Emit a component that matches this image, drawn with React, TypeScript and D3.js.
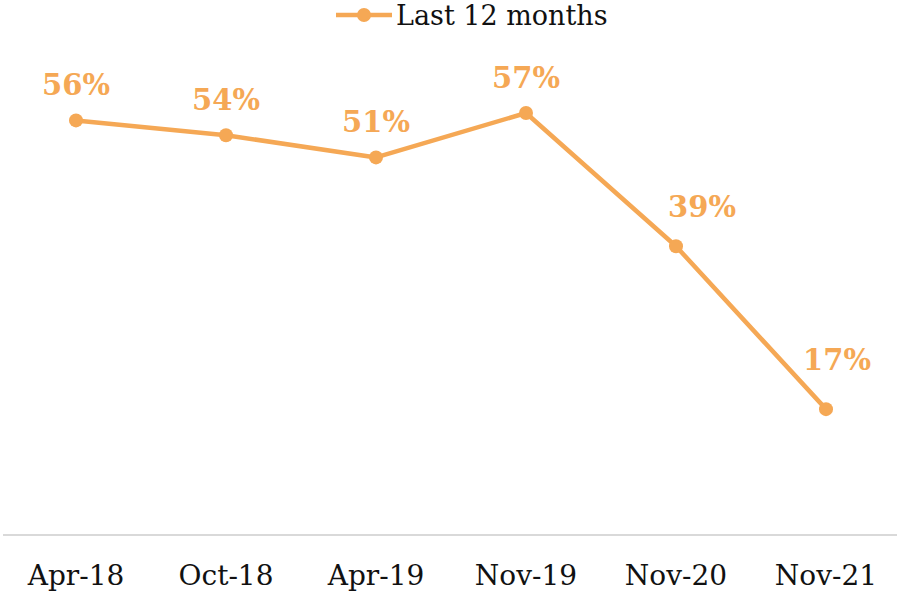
import React from 'react';
import * as d3 from 'd3';

// values
const categories = ['Apr-18', 'Oct-18', 'Apr-19', 'Nov-19', 'Nov-20', 'Nov-21'];
const last12Months = [56, 54, 51, 57, 39, 17];
const seriesName = 'Last 12 months';

// label nudges (px) for points where the label sits off-centre
const labelShift: Record<string, [number, number]> = {
  'Nov-20': [26, -4],
  'Nov-21': [11, -14],
};

const ORANGE = '#F5A855';
const FONT = '"DejaVu Serif", Georgia, serif';

export default function App() {
  const width = 897;
  const height = 591;
  const baseY = 535;

  const x = d3.scaleBand<string>().domain(categories).range([1, 901]);
  const y = d3.scaleLinear().domain([0, 57]).range([baseY, 113]);

  const points = categories.map((c, i) => ({
    c,
    v: last12Months[i],
    px: (x(c) ?? 0) + x.bandwidth() / 2,
    py: y(last12Months[i]),
  }));

  const line = d3
    .line<{ px: number; py: number }>()
    .x(d => d.px)
    .y(d => d.py);

  return (
    <div style={{ position: 'absolute', left: 0, top: 0 }}>
      <svg width={width} height={height} style={{ display: 'block', background: '#fff' }}>
        {/* baseline */}
        <line x1={3} x2={width} y1={baseY} y2={baseY} stroke="#d9d9d9" strokeWidth={2} />

        {/* legend */}
        <g transform="translate(336,15)">
          <line x1={0} x2={56} y1={0} y2={0} stroke={ORANGE} strokeWidth={4.5} />
          <circle cx={28} cy={0} r={7} fill={ORANGE} />
          <text x={60} y={0} dominantBaseline="central" fontFamily={FONT} fontSize={27} fill="#111">
            {seriesName}
          </text>
        </g>

        <path d={line(points) ?? ''} fill="none" stroke={ORANGE} strokeWidth={4.5} strokeLinejoin="round" />

        {points.map(p => (
          <circle key={p.c} cx={p.px} cy={p.py} r={7} fill={ORANGE} />
        ))}

        {points.map(p => {
          const [dx, dy] = labelShift[p.c] ?? [0, 0];
          return (
            <text
              key={p.c}
              x={p.px + dx}
              y={p.py - 35 + dy}
              textAnchor="middle"
              dominantBaseline="central"
              fontFamily={FONT}
              fontWeight="bold"
              fontSize={29}
              fill={ORANGE}
            >
              {p.v}%
            </text>
          );
        })}

        {/* x axis labels */}
        {categories.map(c => (
          <text
            key={c}
            x={(x(c) ?? 0) + x.bandwidth() / 2}
            y={575}
            textAnchor="middle"
            dominantBaseline="central"
            fontFamily={FONT}
            fontSize={28}
            fill="#111"
          >
            {c}
          </text>
        ))}
      </svg>
    </div>
  );
}
